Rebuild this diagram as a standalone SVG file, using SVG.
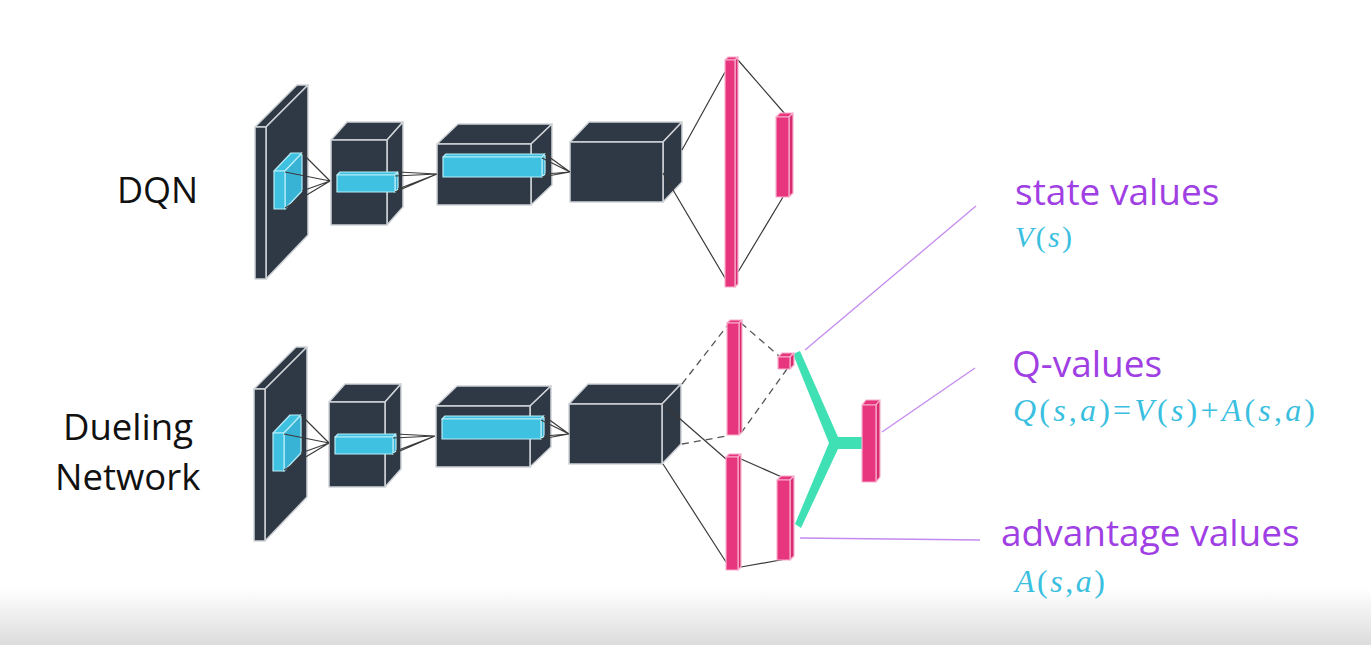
<svg xmlns="http://www.w3.org/2000/svg" width="1371" height="645" viewBox="0 0 1371 645">
<defs>
<linearGradient id="bg" x1="0" y1="0" x2="0" y2="1">
<stop offset="0" stop-color="#ffffff"/>
<stop offset="1" stop-color="#dcdcdc"/>
</linearGradient>
<style>
.cube{fill:#2f3845;stroke:#cfd3d8;stroke-width:1.5;stroke-linejoin:round}
.cyan{fill:#3fc1e2;stroke:#b8edf8;stroke-width:1.2;stroke-linejoin:round}
.cyans{fill:#38b3d6;stroke:#b8edf8;stroke-width:1.2;stroke-linejoin:round}
.pink{fill:#e8367e;stroke:#f7b0cd;stroke-width:1.2;stroke-linejoin:round}
.pinks{fill:#d92c70;stroke:#f7b0cd;stroke-width:1.2;stroke-linejoin:round}
.link{stroke:#3a3a3a;stroke-width:1.2;fill:none}
.dash{stroke:#555;stroke-width:1.3;stroke-dasharray:7 5;fill:none}
.lead{stroke:#c48af0;stroke-width:1.3;fill:none}
.lbl{font-family:"Open Sans","Noto Sans","DejaVu Sans",sans-serif;font-size:36.5px;fill:#111}
.plbl{font-family:"Open Sans","Noto Sans","DejaVu Sans",sans-serif;font-size:37px;fill:#a03fe3}
.math{font-family:"Liberation Serif","DejaVu Serif",serif;fill:#3bbfe0}
.it{font-style:italic}
</style>
</defs>
<rect x="0" y="0" width="1371" height="645" fill="#ffffff"/>
<rect x="0" y="588" width="1371" height="57" fill="url(#bg)"/>

<!-- DQN feature extractor -->
<g id="dqn-input">
<polygon class="cube" points="255,127 297,85 308,85 266,127"/>
<polygon class="cube" points="266,127 308,85 308,235 266,279"/>
<rect class="cube" x="255" y="127" width="11" height="152"/>
<polygon class="cyan" points="274,171 291,153 302,153 285,171"/>
<polygon class="cyans" points="285,171 302,153 302,191 285,209"/>
<rect class="cyan" x="274" y="171" width="11" height="38"/>
</g>
<g id="dqn-conv1">
<polygon class="cube" points="331,140 347,122 403,122 387,140"/>
<polygon class="cube" points="387,140 403,122 403,207 387,225"/>
<rect class="cube" x="331" y="140" width="56" height="85"/>
<polygon class="cyan" points="337,175 340,172 398,172 395,175"/>
<polygon class="cyans" points="395,175 398,172 398,189 395,192"/>
<rect class="cyan" x="337" y="175" width="58" height="17"/>
</g>
<g id="dqn-conv2">
<polygon class="cube" points="437,144 458,124 552,124 531,144"/>
<polygon class="cube" points="531,144 552,124 552,185 531,205"/>
<rect class="cube" x="437" y="144" width="94" height="61"/>
<polygon class="cyan" points="443,157 446,154 545,154 542,157"/>
<polygon class="cyans" points="542,157 545,154 545,174 542,177"/>
<rect class="cyan" x="443" y="157" width="99" height="20"/>
</g>
<g id="dqn-conv3">
<polygon class="cube" points="570,142 589,122 682,122 663,142"/>
<polygon class="cube" points="663,142 682,122 682,182 663,202"/>
<rect class="cube" x="570" y="142" width="93" height="60"/>
</g>

<!-- Dueling feature extractor -->
<g id="duel-input" transform="translate(-1,262)">
<polygon class="cube" points="255,127 297,85 308,85 266,127"/>
<polygon class="cube" points="266,127 308,85 308,235 266,279"/>
<rect class="cube" x="255" y="127" width="11" height="152"/>
<polygon class="cyan" points="274,171 291,153 302,153 285,171"/>
<polygon class="cyans" points="285,171 302,153 302,191 285,209"/>
<rect class="cyan" x="274" y="171" width="11" height="38"/>
</g>
<g id="duel-conv1" transform="translate(-2,262)">
<polygon class="cube" points="331,140 347,122 403,122 387,140"/>
<polygon class="cube" points="387,140 403,122 403,207 387,225"/>
<rect class="cube" x="331" y="140" width="56" height="85"/>
<polygon class="cyan" points="337,175 340,172 398,172 395,175"/>
<polygon class="cyans" points="395,175 398,172 398,189 395,192"/>
<rect class="cyan" x="337" y="175" width="58" height="17"/>
</g>
<g id="duel-conv2" transform="translate(-1,262)">
<polygon class="cube" points="437,144 458,124 552,124 531,144"/>
<polygon class="cube" points="531,144 552,124 552,185 531,205"/>
<rect class="cube" x="437" y="144" width="94" height="61"/>
<polygon class="cyan" points="443,157 446,154 545,154 542,157"/>
<polygon class="cyans" points="542,157 545,154 545,174 542,177"/>
<rect class="cyan" x="443" y="157" width="99" height="20"/>
</g>
<g id="duel-conv3" transform="translate(-1,262)">
<polygon class="cube" points="570,142 589,122 682,122 663,142"/>
<polygon class="cube" points="663,142 682,122 682,182 663,202"/>
<rect class="cube" x="570" y="142" width="93" height="60"/>
</g>

<!-- connectors -->
<g id="connectors">
<g id="dqn-links">
<path class="link" d="M302,153 L330,181 M285,172 L330,181 M302,191 L330,181 M285,208 L330,181"/>
<path class="link" d="M398,172 L437,174 M395,176 L437,174 M398,189 L437,174 M395,192 L437,174"/>
<path class="link" d="M545,154 L570,172 M542,158 L570,172 M545,174 L570,172 M542,177 L570,172"/>
<path class="link" d="M682,150 L725,72 M663,173 L725,278 M738,60 L785,114 M738,272 L783,197"/>
</g>
<g id="duel-links">
<path class="link" transform="translate(-1,262)" d="M302,153 L330,181 M285,172 L330,181 M302,191 L330,181 M285,208 L330,181"/>
<path class="link" transform="translate(-2,262)" d="M398,172 L437,174 M395,176 L437,174 M398,189 L437,174 M395,192 L437,174"/>
<path class="link" transform="translate(-1,262)" d="M545,154 L570,172 M542,158 L570,172 M545,174 L570,172 M542,177 L570,172"/>
<path class="dash" d="M682,384 L727,326 M682,444 L727,436 M741,323 L779,356 M741,433 L787,369"/>
<path class="link" d="M663,404 L726,459 M663,464 L726,562 M741,459 L784,478 M741,567 L786,559"/>
</g>
<polygon id="aggregation" fill="#3ee0b4" points="793,354 800,351 838,437 862,437 862,449 838,449 801,528 795,524 829,443"/>
<g id="leaders">
<line class="lead" x1="805" y1="350" x2="976" y2="206"/>
<line class="lead" x1="882" y1="432" x2="975" y2="368"/>
<line class="lead" x1="800" y1="538" x2="980" y2="540"/>
</g>
</g>

<!-- DQN head -->
<g id="dqn-fc">
<polygon class="pink" points="725,60 728,57 738,57 735,60"/>
<polygon class="pinks" points="735,60 738,57 738,284 735,287"/>
<rect class="pink" x="725" y="60" width="10" height="227"/>
</g>
<g id="dqn-out">
<polygon class="pink" points="776,117 780,113 793,113 789,117"/>
<polygon class="pinks" points="789,117 793,113 793,193 789,197"/>
<rect class="pink" x="776" y="117" width="13" height="80"/>
</g>

<!-- Dueling heads -->
<g id="duel-fc-value">
<polygon class="pink" points="727,323 730,320 742,320 739,323"/>
<polygon class="pinks" points="739,323 742,320 742,432 739,435"/>
<rect class="pink" x="727" y="323" width="12" height="112"/>
</g>
<g id="duel-value">
<polygon class="pink" points="778,357 782,353 794,353 790,357"/>
<polygon class="pinks" points="790,357 794,353 794,365 790,369"/>
<rect class="pink" x="778" y="357" width="12" height="12"/>
</g>
<g id="duel-fc-adv">
<polygon class="pink" points="726,457 729,454 741,454 738,457"/>
<polygon class="pinks" points="738,457 741,454 741,567 738,570"/>
<rect class="pink" x="726" y="457" width="12" height="113"/>
</g>
<g id="duel-adv">
<polygon class="pink" points="777,480 781,476 794,476 790,480"/>
<polygon class="pinks" points="790,480 794,476 794,556 790,560"/>
<rect class="pink" x="777" y="480" width="13" height="80"/>
</g>
<g id="duel-q">
<polygon class="pink" points="862,405 866,400 880,400 876,405"/>
<polygon class="pinks" points="876,405 880,400 880,477 876,482"/>
<rect class="pink" x="862" y="405" width="14" height="77"/>
</g>

<!-- labels -->
<g id="label-dqn"><text class="lbl" x="117" y="203" style="font-size:36px">DQN</text></g>
<g id="label-dueling"><text class="lbl" x="63" y="440">Dueling</text><text class="lbl" x="55" y="490">Network</text></g>
<g id="label-state">
<text class="plbl" x="1015" y="205">state values</text>
<text class="math" x="1015" y="247" font-size="30" textLength="57" lengthAdjust="spacing"><tspan class="it">V</tspan>(<tspan class="it">s</tspan>)</text>
</g>
<g id="label-q">
<text class="plbl" x="1012" y="377">Q-values</text>
<text class="math" x="1013" y="421" font-size="32" textLength="302" lengthAdjust="spacing"><tspan class="it">Q</tspan>(<tspan class="it">s</tspan>,<tspan class="it">a</tspan>)=<tspan class="it">V</tspan>(<tspan class="it">s</tspan>)+<tspan class="it">A</tspan>(<tspan class="it">s</tspan>,<tspan class="it">a</tspan>)</text>
</g>
<g id="label-adv">
<text class="plbl" x="1001" y="546">advantage values</text>
<text class="math" x="1015" y="592" font-size="32" textLength="90" lengthAdjust="spacing"><tspan class="it">A</tspan>(<tspan class="it">s</tspan>,<tspan class="it">a</tspan>)</text>
</g>
</svg>
